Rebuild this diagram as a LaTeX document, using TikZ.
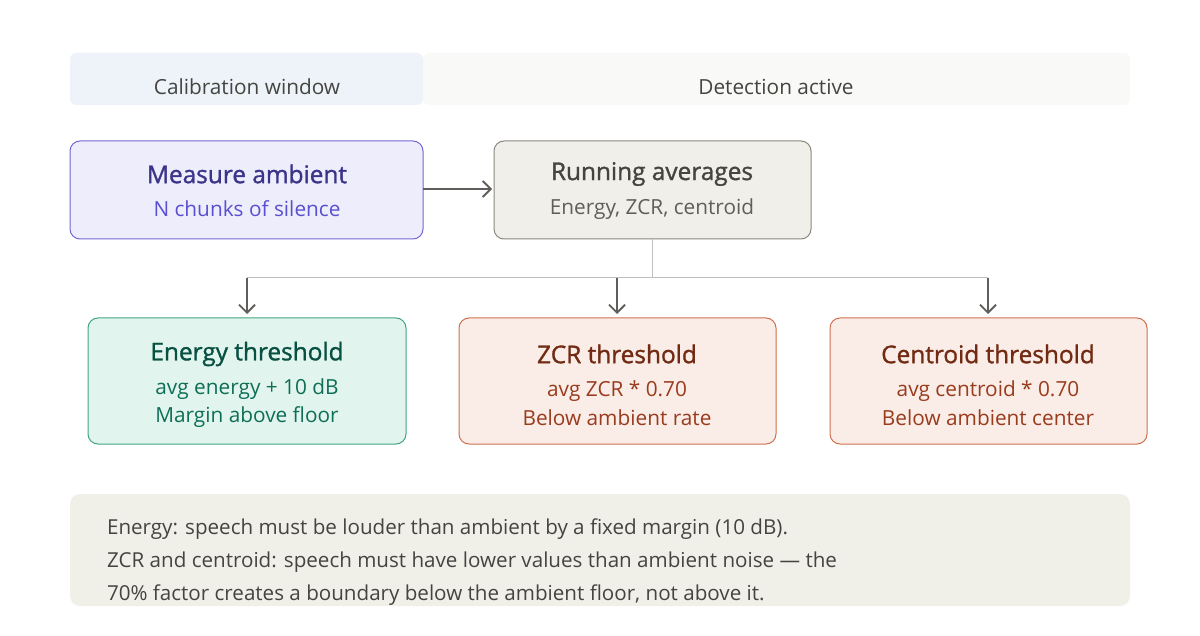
\documentclass[tikz,border=0pt]{standalone}
\usepackage{fontspec}
\setmainfont{Open Sans}
\newfontfamily\titlefont[FakeBold=1.2]{Open Sans}
\usetikzlibrary{arrows.meta}
\definecolor{calfill}{HTML}{EEF3FA}
\definecolor{detfill}{HTML}{F9F9F7}
\definecolor{purfill}{HTML}{EEEDFC}
\definecolor{purline}{HTML}{7467CF}
\definecolor{purdark}{HTML}{3C3489}
\definecolor{purtext}{HTML}{5A4FCF}
\definecolor{grayfill}{HTML}{F1EFEA}
\definecolor{grayline}{HTML}{8A8880}
\definecolor{graydark}{HTML}{444441}
\definecolor{graytext}{HTML}{5F5E5A}
\definecolor{grnfill}{HTML}{E1F5EE}
\definecolor{grnline}{HTML}{3FA67E}
\definecolor{grndark}{HTML}{085041}
\definecolor{grntext}{HTML}{0F6E56}
\definecolor{redfill}{HTML}{FAECE7}
\definecolor{redline}{HTML}{D0704F}
\definecolor{reddark}{HTML}{712B13}
\definecolor{redtext}{HTML}{993C1D}
\definecolor{notefill}{HTML}{F1F0E8}
\begin{document}
\begin{tikzpicture}[x=0.5pt,y=-0.5pt,
    box/.style={rounded corners=5pt,line width=0.5pt},
    band/.style={rounded corners=3pt,draw=none},
    title/.style={font=\titlefont\fontsize{12.2}{14}\selectfont},
    sub/.style={font=\fontsize{10.4}{14.2}\selectfont,align=center},
    link/.style={draw=black!25,line width=0.5pt},
    arr/.style={-{Straight Barb[length=4pt,width=8pt]},draw=graytext,line width=0.9pt}]
  \useasboundingbox (0,0) rectangle (1200,636);
  % phase bands
  \fill[band,detfill] (423,53) rectangle (1130,105);
  \fill[band,calfill] (70,53) rectangle (423,105);
  \node[sub,text=graydark] (cal) at (247,87) {Calibration window};
  \node[sub,text=graydark] (det) at (776,87) {Detection active};
  % top boxes
  \draw[box,fill=purfill,draw=purline] (70,141) rectangle (423,239);
  \node[title,text=purdark] (measure) at (247,174) {Measure ambient};
  \node[sub,text=purtext] at (247,209) {N chunks of silence};
  \draw[box,fill=grayfill,draw=grayline] (494,141) rectangle (811,239);
  \node[title,text=graydark] (running) at (652,174) {Running averages};
  \node[sub,text=graytext] at (652,209) {Energy, ZCR, centroid};
  \coordinate (mR) at (423,189);
  \coordinate (rL) at (492,189);
  \draw[arr] (mR) -- (rL);
  % split
  \coordinate (rB) at (652,239);
  \coordinate (split) at (652,278);
  \draw[link] (rB) -- (split);
  \draw[link] (247,278) -- (988,278);
  \foreach \x in {247,617,988}
    \draw[arr] (\x,278) -- (\x,314);
  % thresholds
  \draw[box,fill=grnfill,draw=grnline] (88,318) rectangle (406,444);
  \node[title,text=grndark] (energy) at (247,354) {Energy threshold};
  \node[sub,text=grntext] at (247,403) {avg energy + 10 dB\\Margin above floor};
  \draw[box,fill=redfill,draw=redline] (459,318) rectangle (776,444);
  \node[title,text=reddark] (zcr) at (617,354) {ZCR threshold};
  \node[sub,text=redtext] at (617,403) {avg ZCR * 0.70\\Below ambient rate};
  \draw[box,fill=redfill,draw=redline] (830,318) rectangle (1147,444);
  \node[title,text=reddark] (centroid) at (988,354) {Centroid threshold};
  \node[sub,text=redtext] at (988,403) {avg centroid * 0.70\\Below ambient center};
  % note
  \fill[band,notefill,rounded corners=5pt] (70,494) rectangle (1130,606);
  \node[sub,text=graydark,anchor=west,align=left,font=\fontsize{10.3}{16.5}\selectfont] (note) at (100,562)
    {Energy: speech must be louder than ambient by a fixed margin (10 dB).\\
     ZCR and centroid: speech must have lower values than ambient noise — the\\
     70\% factor creates a boundary below the ambient floor, not above it.};
\end{tikzpicture}
\end{document}
